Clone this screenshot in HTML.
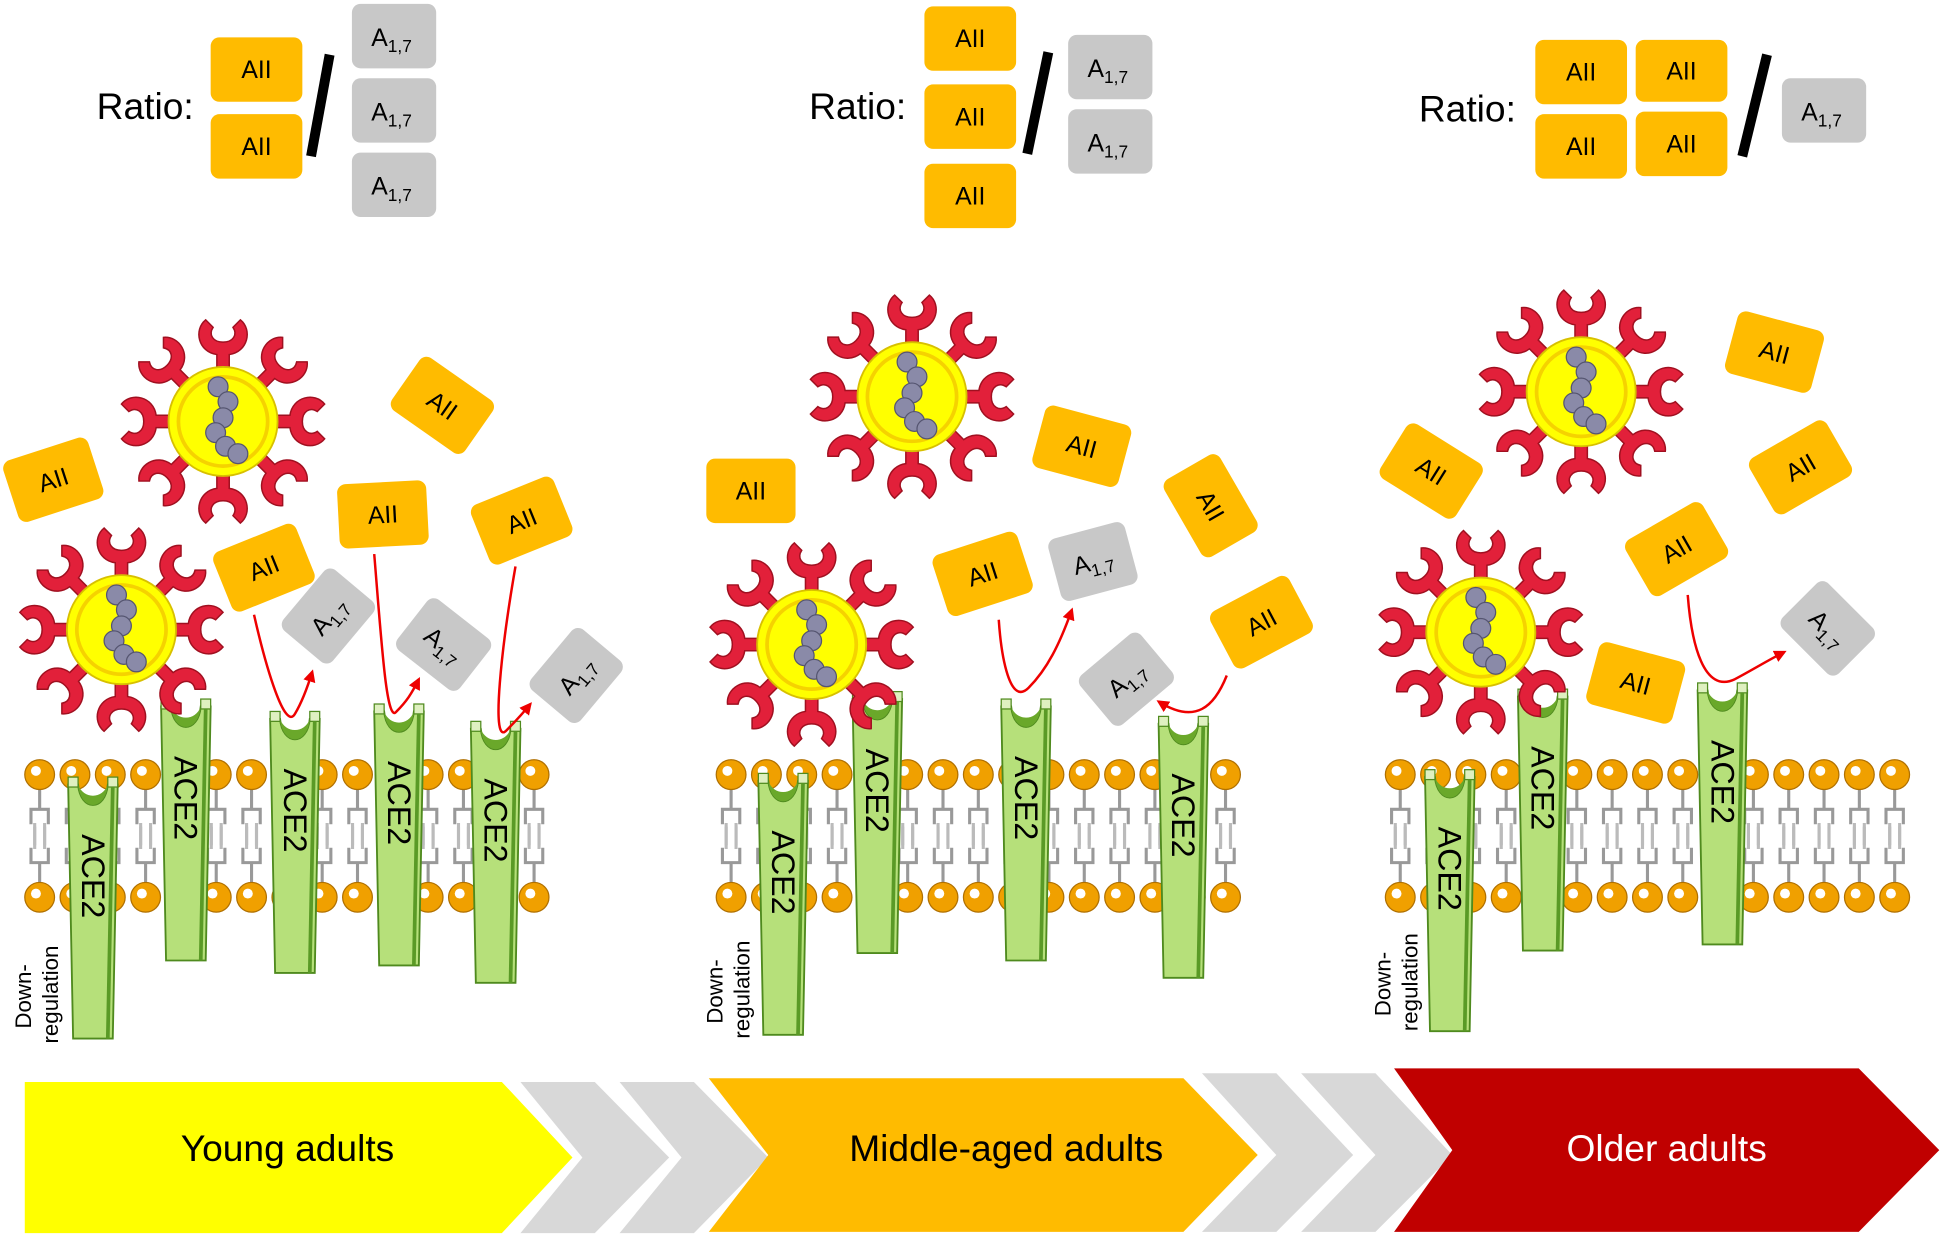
<!DOCTYPE html>
<html><head><meta charset="utf-8"><style>
html,body{margin:0;padding:0;background:#fff;}
svg{display:block;}
text{font-family:"Liberation Sans",sans-serif;}
</style></head><body>
<svg width="1943" height="1237" viewBox="0 0 1568 998" xmlns="http://www.w3.org/2000/svg">
<defs>
<g id="spike">
<path d="M-5,0 L-5,-14 C-20,-16 -24,-34 -14,-42 L-8,-36 C-12,-30 -8,-24 0,-24 C8,-24 12,-30 8,-36 L14,-42 C24,-34 20,-16 5,-14 L5,0 Z" fill="#e2203a" stroke="#a01020" stroke-width="1.2"/>
</g>
<g id="virus">
<use href="#spike" transform="rotate(0) translate(0,-40)"/>
<use href="#spike" transform="rotate(45) translate(0,-40)"/>
<use href="#spike" transform="rotate(90) translate(0,-40)"/>
<use href="#spike" transform="rotate(135) translate(0,-40)"/>
<use href="#spike" transform="rotate(180) translate(0,-40)"/>
<use href="#spike" transform="rotate(225) translate(0,-40)"/>
<use href="#spike" transform="rotate(270) translate(0,-40)"/>
<use href="#spike" transform="rotate(315) translate(0,-40)"/>
<circle r="44" fill="#ffff00" stroke="#d8c000" stroke-width="1.5"/>
<circle r="36" fill="none" stroke="#f5d200" stroke-width="3"/>
<g fill="#8a8aa8" stroke="#555570" stroke-width="1">
<circle cx="-4" cy="-28" r="8"/><circle cx="4" cy="-16" r="8"/><circle cx="0" cy="-3" r="8"/>
<circle cx="-6" cy="9" r="8"/><circle cx="2" cy="20" r="8"/><circle cx="12" cy="26" r="8"/>
</g>
</g>
<g id="ace2">
<path d="M0,0 L8,0 C10,22 30,22 32,0 L40,0 L36,205 L4,205 Z" fill="#b6e07a" stroke="#4f8a1e" stroke-width="1.5"/>
<path d="M8,0 C10,22 30,22 32,0 C28,12 12,12 8,0Z" fill="#6aa82a"/>
<rect x="0" y="-6" width="8" height="8" fill="#dff0c0" stroke="#4f8a1e"/>
<rect x="32" y="-6" width="8" height="8" fill="#dff0c0" stroke="#4f8a1e"/>
<line x1="36" y1="2" x2="32" y2="205" stroke="#5a9a26" stroke-width="3"/>
</g>
<g id="ball"><circle r="12" fill="#f0a000" stroke="#b07000" stroke-width="1"/><circle cx="-3" cy="-3" r="4" fill="#fff"/></g>
<g id="tailT" stroke="#999" stroke-width="2.5" fill="none"><path d="M0,12 L0,22 M-7,40 L-7,28 L7,28 L7,40 M0,22 L0,28"/><path d="M-4,60 L-4,42 M4,60 L4,42" stroke="#bbb"/></g>
<g id="tailB" stroke="#999" stroke-width="2.5" fill="none"><path d="M0,-12 L0,-22 M-7,-40 L-7,-28 L7,-28 L7,-40 M0,-22 L0,-28"/><path d="M-4,-60 L-4,-42 M4,-60 L4,-42" stroke="#bbb"/></g>
<marker id="ah" viewBox="0 0 10 10" refX="8" refY="5" markerWidth="5" markerHeight="5" orient="auto"><path d="M0,0 L10,5 L0,10 Z" fill="#e00"/></marker>
</defs>

<g font-size="30"><text x="78" y="96">Ratio:</text><text x="653" y="96">Ratio:</text><text x="1145" y="98">Ratio:</text></g>
<g fill="#ffbb00">
<rect x="170" y="30" width="74" height="52" rx="7"/><rect x="170" y="92" width="74" height="52" rx="7"/>
<rect x="746" y="5" width="74" height="52" rx="7"/><rect x="746" y="68" width="74" height="52" rx="7"/><rect x="746" y="132" width="74" height="52" rx="7"/>
<rect x="1239" y="32" width="74" height="52" rx="7"/><rect x="1320" y="32" width="74" height="50" rx="7"/><rect x="1239" y="92" width="74" height="52" rx="7"/><rect x="1320" y="90" width="74" height="52" rx="7"/>
</g>
<g fill="#c8c8c8">
<rect x="284" y="3" width="68" height="52" rx="7"/><rect x="284" y="63" width="68" height="52" rx="7"/><rect x="284" y="123" width="68" height="52" rx="7"/>
<rect x="862" y="28" width="68" height="52" rx="7"/><rect x="862" y="88" width="68" height="52" rx="7"/>
<rect x="1438" y="63" width="68" height="52" rx="7"/>
</g>
<g font-size="20" text-anchor="middle">
<text x="207" y="63">AII</text><text x="207" y="125">AII</text>
<text x="783" y="38">AII</text><text x="783" y="101">AII</text><text x="783" y="165">AII</text>
<text x="1276" y="65">AII</text><text x="1357" y="64">AII</text><text x="1276" y="125">AII</text><text x="1357" y="123">AII</text>
<text x="316" y="37">A<tspan font-size="14" dy="5">1,7</tspan></text>
<text x="316" y="97">A<tspan font-size="14" dy="5">1,7</tspan></text>
<text x="316" y="157">A<tspan font-size="14" dy="5">1,7</tspan></text>
<text x="894" y="62">A<tspan font-size="14" dy="5">1,7</tspan></text>
<text x="894" y="122">A<tspan font-size="14" dy="5">1,7</tspan></text>
<text x="1470" y="97">A<tspan font-size="14" dy="5">1,7</tspan></text>
</g>
<g stroke="#000" stroke-width="8"><line x1="266" y1="44" x2="251" y2="126"/><line x1="846" y1="42" x2="829" y2="124"/><line x1="1426" y1="44" x2="1406" y2="126"/></g>

<g id="mem"></g>

<g font-size="26">
<g transform="translate(55,633)"><use href="#ace2"/><text transform="translate(11,40) rotate(90)">ACE2</text></g>
<g transform="translate(130,570)"><use href="#ace2"/><text transform="translate(11,40) rotate(90)">ACE2</text></g>
<g transform="translate(218,580)"><use href="#ace2"/><text transform="translate(11,40) rotate(90)">ACE2</text></g>
<g transform="translate(302,574)"><use href="#ace2"/><text transform="translate(11,40) rotate(90)">ACE2</text></g>
<g transform="translate(380,588)"><use href="#ace2"/><text transform="translate(11,40) rotate(90)">ACE2</text></g>
<g transform="translate(612,630)"><use href="#ace2"/><text transform="translate(11,40) rotate(90)">ACE2</text></g>
<g transform="translate(688,564)"><use href="#ace2"/><text transform="translate(11,40) rotate(90)">ACE2</text></g>
<g transform="translate(808,570)"><use href="#ace2"/><text transform="translate(11,40) rotate(90)">ACE2</text></g>
<g transform="translate(935,584)"><use href="#ace2"/><text transform="translate(11,40) rotate(90)">ACE2</text></g>
<g transform="translate(1150,627)"><use href="#ace2"/><text transform="translate(11,40) rotate(90)">ACE2</text></g>
<g transform="translate(1225,562)"><use href="#ace2"/><text transform="translate(11,40) rotate(90)">ACE2</text></g>
<g transform="translate(1370,557)"><use href="#ace2"/><text transform="translate(11,40) rotate(90)">ACE2</text></g>
</g>
<g font-size="18">
<text transform="translate(25,830) rotate(-90)">Down-</text><text transform="translate(47,842) rotate(-90)">regulation</text>
<text transform="translate(583,826) rotate(-90)">Down-</text><text transform="translate(605,838) rotate(-90)">regulation</text>
<text transform="translate(1122,820) rotate(-90)">Down-</text><text transform="translate(1144,832) rotate(-90)">regulation</text>
</g>

<use href="#virus" x="180" y="340"/><use href="#virus" x="98" y="508"/>
<use href="#virus" x="736" y="320"/><use href="#virus" x="655" y="520"/>
<use href="#virus" x="1276" y="316"/><use href="#virus" x="1195" y="510"/>

<g font-size="20" text-anchor="middle">
<g transform="translate(43,387) rotate(-18)"><rect x="-36" y="-26" width="72" height="52" rx="7" fill="#ffbb00"/><text y="7">AII</text></g>
<g transform="translate(357,327) rotate(35)"><rect x="-36" y="-26" width="72" height="52" rx="7" fill="#ffbb00"/><text y="7">AII</text></g>
<g transform="translate(213,458) rotate(-22)"><rect x="-36" y="-26" width="72" height="52" rx="7" fill="#ffbb00"/><text y="7">AII</text></g>
<g transform="translate(309,415) rotate(-3)"><rect x="-36" y="-26" width="72" height="52" rx="7" fill="#ffbb00"/><text y="7">AII</text></g>
<g transform="translate(421,420) rotate(-22)"><rect x="-36" y="-26" width="72" height="52" rx="7" fill="#ffbb00"/><text y="7">AII</text></g>
<g transform="translate(265,497) rotate(-50)"><rect x="-32" y="-26" width="64" height="52" rx="7" fill="#c8c8c8"/><text y="7">A<tspan font-size="14" dy="5">1,7</tspan></text></g>
<g transform="translate(358,520) rotate(38)"><rect x="-32" y="-26" width="64" height="52" rx="7" fill="#c8c8c8"/><text y="7">A<tspan font-size="14" dy="5">1,7</tspan></text></g>
<g transform="translate(465,545) rotate(-50)"><rect x="-32" y="-26" width="64" height="52" rx="7" fill="#c8c8c8"/><text y="7">A<tspan font-size="14" dy="5">1,7</tspan></text></g>

<g transform="translate(606,396)"><rect x="-36" y="-26" width="72" height="52" rx="7" fill="#ffbb00"/><text y="7">AII</text></g>
<g transform="translate(873,360) rotate(15)"><rect x="-36" y="-26" width="72" height="52" rx="7" fill="#ffbb00"/><text y="7">AII</text></g>
<g transform="translate(977,408) rotate(60)"><rect x="-36" y="-26" width="72" height="52" rx="7" fill="#ffbb00"/><text y="7">AII</text></g>
<g transform="translate(793,463) rotate(-18)"><rect x="-36" y="-26" width="72" height="52" rx="7" fill="#ffbb00"/><text y="7">AII</text></g>
<g transform="translate(1018,502) rotate(-28)"><rect x="-36" y="-26" width="72" height="52" rx="7" fill="#ffbb00"/><text y="7">AII</text></g>
<g transform="translate(882,453) rotate(-15)"><rect x="-32" y="-26" width="64" height="52" rx="7" fill="#c8c8c8"/><text y="7">A<tspan font-size="14" dy="5">1,7</tspan></text></g>
<g transform="translate(909,548) rotate(-40)"><rect x="-32" y="-26" width="64" height="52" rx="7" fill="#c8c8c8"/><text y="7">A<tspan font-size="14" dy="5">1,7</tspan></text></g>

<g transform="translate(1432,284) rotate(15)"><rect x="-36" y="-26" width="72" height="52" rx="7" fill="#ffbb00"/><text y="7">AII</text></g>
<g transform="translate(1155,380) rotate(32)"><rect x="-36" y="-26" width="72" height="52" rx="7" fill="#ffbb00"/><text y="7">AII</text></g>
<g transform="translate(1453,377) rotate(-30)"><rect x="-36" y="-26" width="72" height="52" rx="7" fill="#ffbb00"/><text y="7">AII</text></g>
<g transform="translate(1353,443) rotate(-30)"><rect x="-36" y="-26" width="72" height="52" rx="7" fill="#ffbb00"/><text y="7">AII</text></g>
<g transform="translate(1320,551) rotate(15)"><rect x="-36" y="-26" width="72" height="52" rx="7" fill="#ffbb00"/><text y="7">AII</text></g>
<g transform="translate(1475,507) rotate(45)"><rect x="-32" y="-26" width="64" height="52" rx="7" fill="#c8c8c8"/><text y="7">A<tspan font-size="14" dy="5">1,7</tspan></text></g>
</g>

<g stroke="#e00" stroke-width="2" fill="none" marker-end="url(#ah)">
<path d="M205,496 C215,540 230,590 238,576 C244,566 248,555 252,542"/>
<path d="M302,447 C308,520 312,585 320,574 C328,566 332,560 338,548"/>
<path d="M416,457 C405,520 396,600 408,590 C414,584 420,578 428,568"/>
<path d="M806,500 C808,530 815,570 830,555 C845,540 855,520 865,492"/>
<path d="M990,545 C980,570 965,585 935,566"/>
<path d="M1362,480 C1365,520 1375,560 1400,548 C1415,540 1428,532 1440,526"/>
</g>

<polygon points="20,873 405,873 462,934 405,995 20,995" fill="#ffff00"/>
<polygon points="420,873 480,873 540,934 480,995 420,995 470,934" fill="#d8d8d8"/>
<polygon points="500,873 560,873 620,934 560,995 500,995 550,934" fill="#d8d8d8"/>
<polygon points="572,870 955,870 1015,932 955,994 622,994 572,994 620,932" fill="#ffbb00"/>
<polygon points="970,866 1030,866 1092,932 1030,994 970,994 1030,932" fill="#d8d8d8"/>
<polygon points="1050,866 1110,866 1172,932 1110,994 1050,994 1110,932" fill="#d8d8d8"/>
<polygon points="1125,862 1500,862 1565,928 1500,994 1125,994 1172,928" fill="#c00000"/>
<g font-size="30" text-anchor="middle">
<text x="232" y="937">Young adults</text>
<text x="812" y="937">Middle-aged adults</text>
<text x="1345" y="937" fill="#fff">Older adults</text>
</g>
</svg>
<script>
(function(){
var ns="http://www.w3.org/2000/svg",g=document.getElementById("mem");
function u(id,x,y){var e=document.createElementNS(ns,"use");e.setAttribute("href","#"+id);e.setAttribute("x",x);e.setAttribute("y",y);g.appendChild(e);}
var panels=[[32,440],[590,1000],[1130,1535]];
panels.forEach(function(p){
 for(var x=p[0];x<=p[1];x+=28.5){
  u("tailT",x,625);u("tailB",x,724);u("ball",x,625);u("ball",x,724);
 }
});
})();
</script>
</body></html>
